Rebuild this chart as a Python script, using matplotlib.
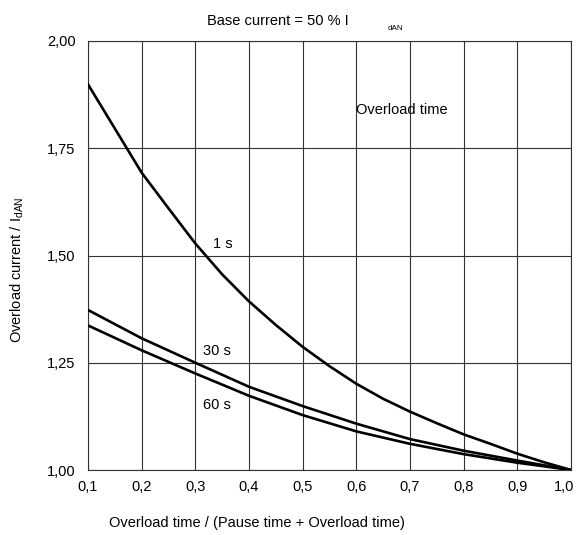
import matplotlib
matplotlib.use("Agg")
import matplotlib.pyplot as plt
import matplotlib.transforms as mtransforms
from matplotlib import font_manager

names = sorted({f.name for f in font_manager.fontManager.ttflist})
narrow = 'Liberation Sans Narrow' in names
print(names)
FAM = ['Liberation Sans Narrow', 'Liberation Sans', 'DejaVu Sans'] if narrow else ['Liberation Sans', 'DejaVu Sans']
FS = 12.3 if narrow else 10.5

plt.rcParams['font.family'] = FAM
plt.rcParams['mathtext.fontset'] = 'custom'
plt.rcParams['mathtext.rm'] = FAM[0]
plt.rcParams['mathtext.it'] = FAM[0]

x_1s = [0.1, 0.15, 0.2, 0.25, 0.3, 0.35, 0.4, 0.45, 0.5, 0.55, 0.6, 0.65, 0.7, 0.75, 0.8, 0.85, 0.9, 0.95, 1.0]
y_1s = [1.899, 1.796, 1.693, 1.610, 1.528, 1.456, 1.393, 1.338, 1.287, 1.242, 1.201, 1.166, 1.136,
        1.109, 1.083, 1.061, 1.038, 1.018, 1.0]
x = [0.1, 0.2, 0.3, 0.4, 0.5, 0.6, 0.7, 0.8, 0.9, 1.0]
y_30s = [1.373, 1.307, 1.250, 1.194, 1.149, 1.108, 1.072, 1.045, 1.022, 1.0]
y_60s = [1.337, 1.279, 1.225, 1.173, 1.128, 1.090, 1.061, 1.037, 1.017, 1.0]

xticks = [0.1, 0.2, 0.3, 0.4, 0.5, 0.6, 0.7, 0.8, 0.9, 1.0]
xticklabels = ['0,1', '0,2', '0,3', '0,4', '0,5', '0,6', '0,7', '0,8', '0,9', '1,0']
yticks = [1.00, 1.25, 1.50, 1.75, 2.00]
yticklabels = ['1,00', '1,25', '1,50', '1,75', '2,00']

W, H = 579, 535
fig = plt.figure(figsize=(W / 100, H / 100), dpi=100)
ax = fig.add_axes([88 / W, (H - 470) / H, 483 / W, 429 / H])

ax.plot(x_1s, y_1s, color='black', lw=1.9, solid_joinstyle='round', zorder=3)
ax.plot(x, y_30s, color='black', lw=1.9, solid_joinstyle='round', zorder=3)
ax.plot(x, y_60s, color='black', lw=1.9, solid_joinstyle='round', zorder=3)

ax.set_xlim(0.1, 1.0)
ax.set_ylim(1.0, 2.0)
ax.set_xticks(xticks)
ax.set_xticklabels(xticklabels, fontsize=FS)
ax.set_yticks(yticks)
ax.set_yticklabels(yticklabels, fontsize=FS)
ax.tick_params(length=0)
ax.tick_params(axis='x', pad=7)
ax.tick_params(axis='y', pad=9)
ax.grid(True, color='#333333', lw=0.8)
for s in ax.spines.values():
    s.set_color('#333333')
    s.set_linewidth(0.8)

lbl = ax.get_xticklabels()[-1]
lbl.set_transform(lbl.get_transform() + mtransforms.ScaledTranslation(-7 / 100, 0, fig.dpi_scale_trans))

ax.text(0.3515, 1.527, '1 s', fontsize=FS, ha='center', va='center')
ax.text(0.3394, 1.278, '30 s', fontsize=FS, ha='center', va='center')
ax.text(0.3394, 1.1515, '60 s', fontsize=FS, ha='center', va='center')
ax.text(0.685, 1.839, 'Overload time', fontsize=FS, ha='center', va='center')

fig.text(278 / W, 1 - 20.7 / H, 'Base current = 50 % I', fontsize=FS, ha='center', va='center')
fig.text(395 / W, 1 - 29 / H, 'dAN', fontsize=FS * 0.55, ha='center', va='center')
fig.text(257 / W, 1 - 523 / H, 'Overload time / (Pause time + Overload time)', fontsize=FS,
         ha='center', va='center')
fig.text(17.5 / W, 1 - 270 / H, r'Overload current / I$_{\mathrm{dAN}}$', fontsize=FS,
         ha='center', va='center', rotation=90)

fig.savefig('out.png', dpi=100)
